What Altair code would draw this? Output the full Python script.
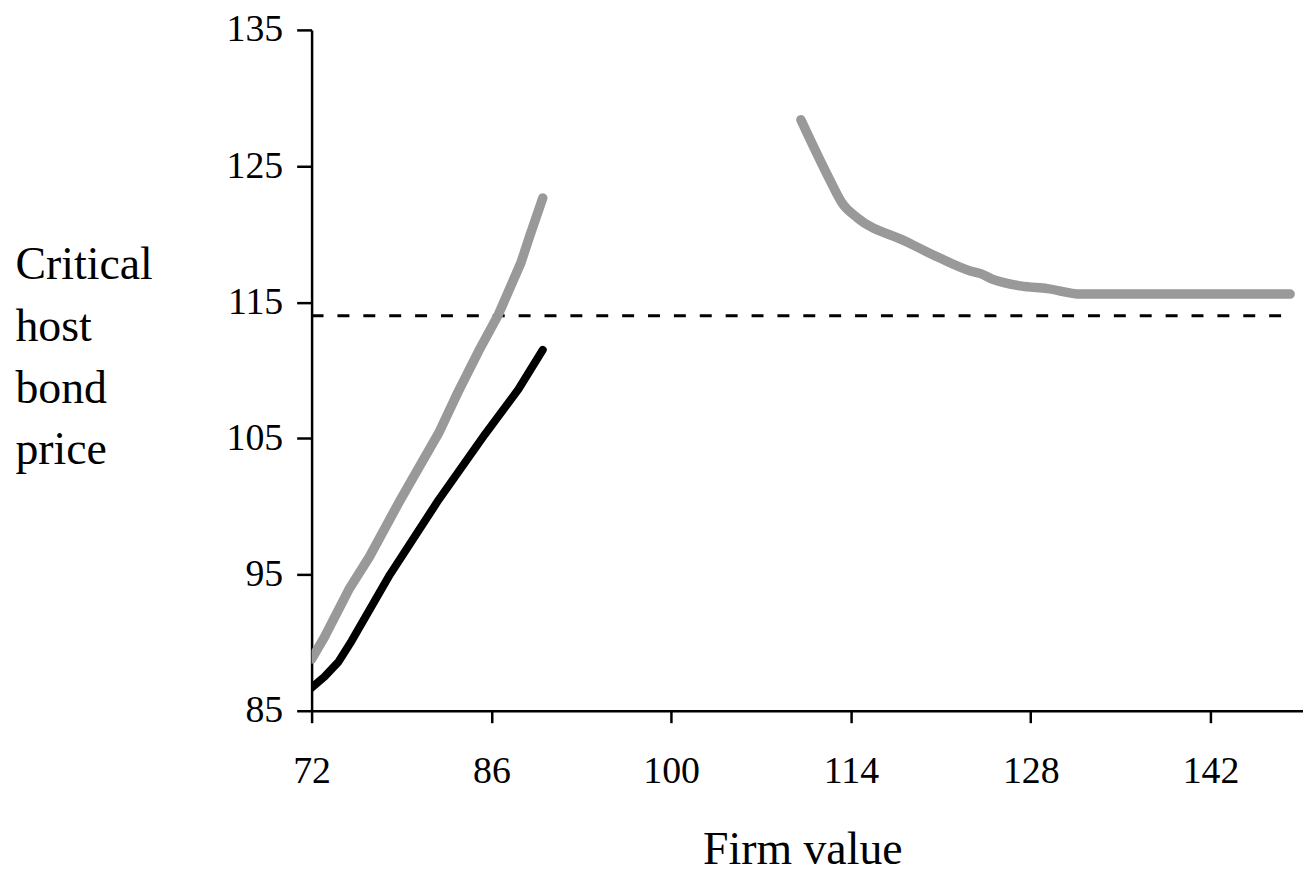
import altair as alt
import pandas as pd

# Data
black_x = [72.0, 73.0, 74.1, 75.1, 78.1, 81.9, 85.5, 88.1, 90.0]
black_y = [86.7, 87.5, 88.6, 90.1, 95.0, 100.5, 105.3, 108.6, 111.5]

gray_low_x = [72.0, 73.0, 74.9, 76.5, 78.8, 81.9, 83.4, 85.0, 86.5, 88.3, 89.0, 90.0]
gray_low_y = [88.8, 90.4, 93.9, 96.3, 100.3, 105.4, 108.4, 111.4, 114.0, 117.9, 119.9, 122.65]

gray_high_x = [110.1, 112.4, 113.3, 114.5, 118.2, 120.8, 123.3, 124.1, 125.0, 127.2, 129.3, 131.9, 148.2]
gray_high_y = [128.4, 123.9, 122.3, 121.2, 119.5, 118.3, 117.3, 117.1, 116.7, 116.2, 116.0, 115.6, 115.6]

threshold = 114.0
threshold_x = [72.0, 148.3]

x_ticks = [72, 86, 100, 114, 128, 142]
y_ticks = [85, 95, 105, 115, 125, 135]

FONT = "Liberation Serif"

xscale = alt.Scale(domain=[72, 149.2], nice=False, zero=False)
yscale = alt.Scale(domain=[85, 135], nice=False, zero=False)

xaxis = alt.Axis(
    values=x_ticks, title="Firm value", titleFont=FONT, titleFontSize=46,
    titleFontWeight="normal", titleColor="black", titleX=493, titleY=153,
    titleBaseline="alphabetic", titleAnchor="start", titleAlign="center",
    labelFont=FONT, labelFontSize=38, labelColor="black",
    labelBaseline="alphabetic", labelPadding=60, tickSize=12,
    domainColor="black", domainWidth=2.5, tickColor="black", tickWidth=2.5,
    grid=False, labelFlush=False,
)
yaxis = alt.Axis(
    values=y_ticks, title=["Critical", "host", "bond", "price"], titleFont=FONT,
    titleFontSize=46, titleFontWeight="normal", titleColor="black", titleAngle=0,
    titleAlign="left", titleBaseline="alphabetic", titleX=-298, titleY=250,
    titleLineHeight=62,
    labelFont=FONT, labelFontSize=38, labelColor="black", labelPadding=14,
    tickSize=15, domainColor="black", domainWidth=2.5, tickColor="black",
    tickWidth=2.5, grid=False, labelFlush=False,
)

def line_layer(xs, ys, color, width, interp):
    df = pd.DataFrame({"x": xs, "y": ys})
    return alt.Chart(df).mark_line(color=color, strokeWidth=width, strokeCap="round",
                                   strokeJoin="round", interpolate=interp,
                                   clip=True).encode(
        x=alt.X("x:Q", scale=xscale, axis=xaxis),
        y=alt.Y("y:Q", scale=yscale, axis=yaxis),
    )

rule_df = pd.DataFrame({"x": [threshold_x[0]], "x2": [threshold_x[1]], "y": [threshold]})
rule = alt.Chart(rule_df).mark_rule(color="black", strokeWidth=3, strokeDash=[12, 14]).encode(
    x=alt.X("x:Q", scale=xscale, axis=xaxis),
    x2="x2:Q",
    y=alt.Y("y:Q", scale=yscale, axis=yaxis),
)

chart = alt.layer(
    rule,
    line_layer(gray_low_x, gray_low_y, "#999999", 9.5, "linear"),
    line_layer(gray_high_x, gray_high_y, "#999999", 9.5, "monotone"),
    line_layer(black_x, black_y, "black", 8, "linear"),
).properties(
    width=996, height=684,
    autosize=alt.AutoSizeParams(type="none"),
    padding={"left": 305, "top": 20, "right": 0, "bottom": 161},
    background="white",
).configure_view(stroke=None)

chart.save("out.html", embed_options={"renderer": "svg", "actions": False})
